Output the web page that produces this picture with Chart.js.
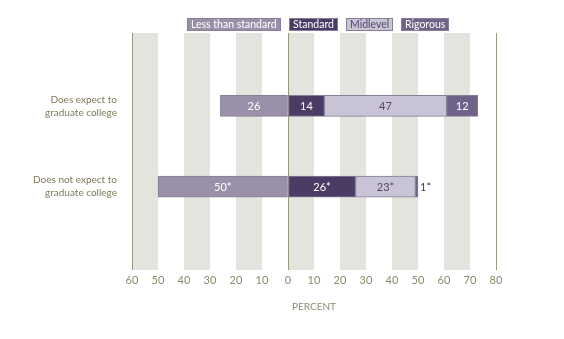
<!DOCTYPE html>
<html>
<head>
<meta charset="utf-8">
<title>College expectations by curriculum level</title>
<script src="https://cdn.jsdelivr.net/npm/chart.js"></script>
<style>
  html, body { margin: 0; padding: 0; background: #fff; }
  #wrap { width: 564px; height: 339px; }
</style>
</head>
<body>
<div id="wrap"><canvas id="chart"></canvas></div>
<script>
// Rows of the chart, top to bottom
const categories = [
    ['Does expect to', 'graduate college'],
    ['Does not expect to', 'graduate college']
];

// Percent of students at each curriculum level
const lessThanStandard = [26, 50];
const standard = [14, 26];
const midlevel = [47, 23];
const rigorous = [12, 1];

// Values in the second row are flagged with an asterisk
const significant = [false, true];

// Axis range and tick step (percent)
const xMin = -60;
const xMax = 80;
const xStep = 10;

const FONT = 'Lato';
const OLIVE = '#7f7a58';
const TICK_COLOR = '#8d8b6f';

// "Less than standard" goes to the left of zero, the rest stack to the right
const series = [
    { label: 'Less than standard', values: lessThanStandard, sign: -1, color: '#9b90aa', text: '#ffffff' },
    { label: 'Standard', values: standard, sign: 1, color: '#4b3c66', text: '#ffffff' },
    { label: 'Midlevel', values: midlevel, sign: 1, color: '#c8c4d6', text: '#54496a' },
    { label: 'Rigorous', values: rigorous, sign: 1, color: '#6f6389', text: '#ffffff' }
];

// Alternating grey bands behind the bars, one every other tick interval
const stripes = {
    id: 'stripes',
    beforeDraw(chart) {
        const { ctx, chartArea, scales: { x } } = chart;
        ctx.save();
        ctx.fillStyle = '#e4e4de';
        for (let v = xMin; v < xMax; v += 2 * xStep) {
            const x0 = x.getPixelForValue(v);
            const x1 = x.getPixelForValue(v + xStep);
            ctx.fillRect(x0, chartArea.top, x1 - x0, chartArea.bottom - chartArea.top);
        }
        ctx.restore();
    }
};

// Numbers written on the bars
const barValues = {
    id: 'barValues',
    afterDatasetsDraw(chart) {
        const { ctx } = chart;
        ctx.save();
        ctx.font = '11px ' + FONT;
        ctx.textBaseline = 'middle';
        chart.data.datasets.forEach((ds, di) => {
            const s = series[di];
            chart.getDatasetMeta(di).data.forEach((bar, i) => {
                const txt = s.values[i] + (significant[i] ? '*' : '');
                const w = Math.abs(bar.x - bar.base);
                if (w > 16) {
                    ctx.textAlign = 'center';
                    ctx.fillStyle = s.text;
                    ctx.fillText(txt, (bar.x + bar.base) / 2, bar.y + 0.5);
                } else {
                    ctx.textAlign = 'left';
                    ctx.fillStyle = '#4b3c66';
                    ctx.fillText(txt, Math.max(bar.x, bar.base) + 2, bar.y + 0.5);
                }
            });
        });
        ctx.restore();
    }
};

// Legend as a row of filled boxes with the label inside
const boxLegend = {
    id: 'boxLegend',
    afterDraw(chart) {
        const { ctx, chartArea } = chart;
        ctx.save();
        ctx.font = '10.5px ' + FONT;
        const pad = 4, gap = 8, top = 18, h = 13;
        const widths = series.map(s => Math.round(ctx.measureText(s.label).width + 2 * pad));
        const total = widths.reduce((a, b) => a + b, 0) + gap * (series.length - 1);
        let x = Math.round((chartArea.left + chartArea.right) / 2 - total / 2) + 4;
        series.forEach((s, i) => {
            ctx.fillStyle = s.color;
            ctx.fillRect(x, top, widths[i], h);
            ctx.strokeStyle = '#857e96';
            ctx.lineWidth = 1;
            ctx.strokeRect(x + 0.5, top + 0.5, widths[i] - 1, h - 1);
            ctx.fillStyle = s.text;
            ctx.textBaseline = 'middle';
            ctx.textAlign = 'left';
            ctx.fillText(s.label, x + pad, top + h / 2 + 0.5);
            x += widths[i] + gap;
        });
        ctx.restore();
    }
};

const chart = new Chart(document.getElementById('chart'), {
    type: 'bar',
    data: {
        datasets: series.map(s => ({
            label: s.label,
            data: s.values.map((v, i) => ({ x: s.sign * v, y: i })),
            backgroundColor: s.color,
            borderColor: '#857e96',
            borderWidth: 1,
            borderSkipped: false,
            barThickness: 21
        }))
    },
    options: {
        indexAxis: 'y',
        responsive: true,
        maintainAspectRatio: false,
        animation: false,
        layout: { padding: { top: 33, right: 68, bottom: 22, left: 0 } },
        plugins: {
            legend: { display: false },
            tooltip: { enabled: false }
        },
        scales: {
            x: {
                type: 'linear',
                min: xMin,
                max: xMax,
                stacked: true,
                ticks: {
                    stepSize: xStep,
                    autoSkip: false,
                    maxRotation: 0,
                    padding: 4,
                    color: TICK_COLOR,
                    font: { family: FONT, size: 11 },
                    callback: v => Math.abs(v)
                },
                grid: {
                    drawTicks: false,
                    lineWidth: 1,
                    color: c => [xMin, 0, xMax].includes(c.tick.value) ? '#99977e' : 'rgba(0,0,0,0)'
                },
                border: { display: false },
                title: {
                    display: true,
                    text: 'PERCENT',
                    color: TICK_COLOR,
                    font: { family: FONT, size: 10 },
                    padding: { top: 4, bottom: 4 }
                },
                afterFit: s => { s.height = 47; }
            },
            y: {
                type: 'linear',
                reverse: true,
                offset: false,
                min: -0.9,
                max: 2.03,
                stacked: true,
                afterBuildTicks: s => { s.ticks = categories.map((c, i) => ({ value: i })); },
                ticks: {
                    padding: 7,
                    color: OLIVE,
                    font: { family: FONT, size: 10, lineHeight: 1.3 },
                    callback: v => categories[v]
                },
                grid: { display: false, offset: false },
                border: { display: false },
                afterFit: s => { s.width = 132; }
            }
        }
    },
    plugins: [stripes, barValues, boxLegend]
});
</script>
</body>
</html>
